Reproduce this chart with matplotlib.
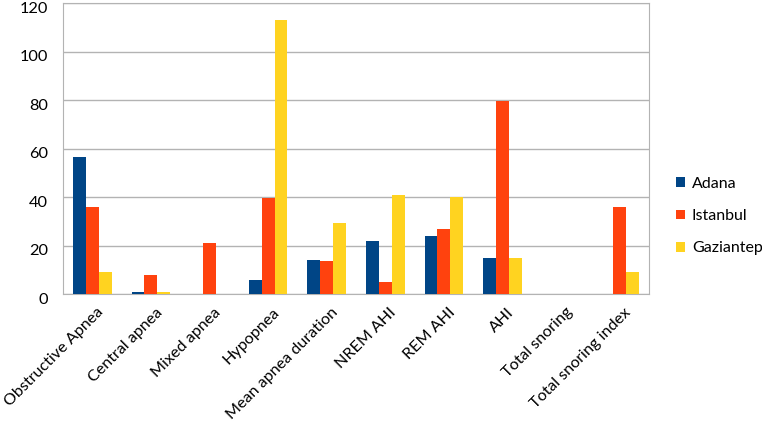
import matplotlib.pyplot as plt
import matplotlib.transforms as mtransforms
import numpy as np

plt.rcParams['font.family'] = ['Lato', 'DejaVu Sans']

categories = ['Obstructive Apnea', 'Central apnea', 'Mixed apnea', 'Hypopnea',
              'Mean apnea duration', 'NREM AHI', 'REM AHI', 'AHI',
              'Total snoring', 'Total snoring index']
adana = [56.5, 1, 0, 6, 14, 22, 24, 15, 0, 0]
istanbul = [36, 8, 21, 39.5, 13.7, 5, 27, 79.6, 0, 36]
gaziantep = [9, 1, 0, 113, 29.5, 41, 40, 15, 0, 9]

series = [('Adana', adana, '#004586'),
          ('Istanbul', istanbul, '#ff420e'),
          ('Gaziantep', gaziantep, '#ffd320')]

fig = plt.figure(figsize=(7.62, 4.30), dpi=100)
ax = fig.add_axes([0.0827, 0.316, 0.769, 0.677])

x = np.arange(len(categories))
w = 0.22
for i, (name, vals, col) in enumerate(series):
    ax.bar(x + (i - 1) * w, vals, w, color=col, label=name, zorder=3)

ax.set_xlim(-0.5, len(categories) - 0.5)
ax.set_ylim(0, 120)
ax.set_yticks(range(0, 121, 20))
ax.yaxis.grid(True, color='#b3b3b3', linewidth=1, zorder=0)
for s in ax.spines.values():
    s.set_color('#b3b3b3')
ax.tick_params(axis='both', length=0, labelsize=11.8, colors='black')
ax.tick_params(axis='y', pad=11)
ax.tick_params(axis='x', pad=8)
ax.set_xticks(x)
ax.set_xticklabels(categories, rotation=45, ha='right', rotation_mode='anchor',
                   fontsize=11.6)
# small nudges so the edge labels fit inside the picture
down = mtransforms.ScaledTranslation(0, -3 / 72, fig.dpi_scale_trans)
for lab in ax.get_yticklabels():
    lab.set_transform(lab.get_transform() + down)
right = mtransforms.ScaledTranslation(3 / 72, 0, fig.dpi_scale_trans)
for lab in ax.get_xticklabels():
    lab.set_transform(lab.get_transform() + right)

ax.legend(loc='center left', bbox_to_anchor=(676 / 762, 1 - 216 / 430),
          bbox_transform=fig.transFigure, frameon=False, borderpad=0,
          borderaxespad=0, fontsize=11.5, handlelength=0.55, handleheight=0.55,
          labelspacing=1.15, handletextpad=0.45)

fig.savefig('out.png', dpi=100)
